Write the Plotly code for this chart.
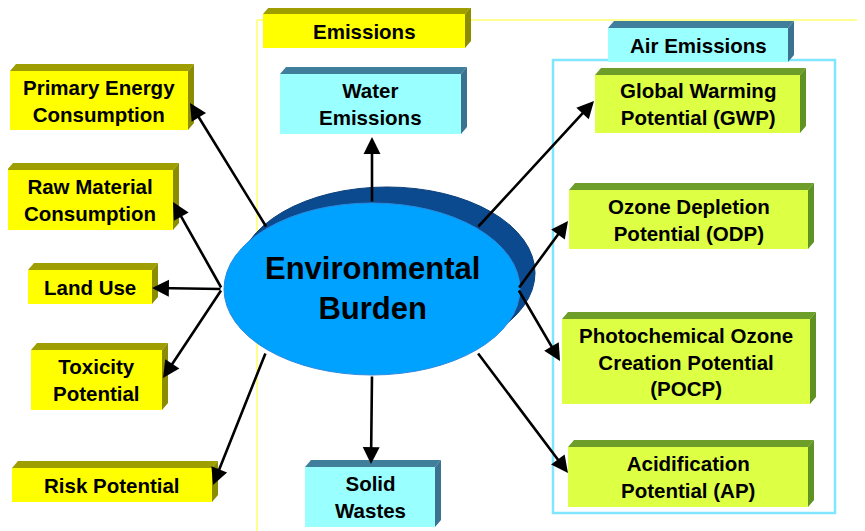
import plotly.graph_objects as go

# ---- content (text) ----
center_label = ["Environmental", "Burden"]
box_labels = [
    "Primary Energy<br>Consumption",
    "Raw Material<br>Consumption",
    "Land Use",
    "Toxicity<br>Potential",
    "Risk Potential",
    "Emissions",
    "Water<br>Emissions",
    "Solid<br>Wastes",
    "Air Emissions",
    "Global Warming<br>Potential (GWP)",
    "Ozone Depletion<br>Potential (ODP)",
    "Photochemical Ozone<br>Creation Potential<br>(POCP)",
    "Acidification<br>Potential (AP)",
]
box_kinds = ["y", "y", "y", "y", "y", "y", "c", "c", "c", "g", "g", "g", "g"]

# ---- layout geometry (pixels: x0, y0, x1, y1 of front face) ----
box_geom = [
    (10, 71, 188, 130),
    (7, 170, 173, 230),
    (28, 270, 152, 304),
    (31, 350, 162, 410),
    (12, 468, 212, 502),
    (263, 14, 465, 48),
    (280, 74, 461, 134),
    (305, 467, 435, 527),
    (608, 28, 788, 62),
    (595, 75, 800, 133),
    (569, 190, 808, 249),
    (562, 319, 810, 404),
    (568, 447, 808, 507),
]
# arrows: (tail x, tail y, head x, head y)
arrows = [
    (267, 228, 190, 103),
    (222, 289, 173, 202),
    (222, 289, 152, 288),
    (222, 289, 163, 378),
    (266, 352, 213, 485),
    (372, 203, 372, 137),
    (372, 375, 371, 464),
    (477, 228, 594, 101),
    (518, 289, 568, 221),
    (518, 289, 560, 361),
    (477, 352, 568, 473),
]

styles = {
    "y": dict(front="#FFFF00", top="#9E9E00", side="#8C8C00"),
    "c": dict(front="#99FFFF", top="#3F7F9C", side="#3A7290"),
    "g": dict(front="#DDFF44", top="#6E9E2A", side="#5E9222"),
}
DX, DY = 6, 7
OFF = 8  # page body margin compensation
FONT = "Liberation Sans, Arial"

fig = go.Figure()
shapes = []

# big emission outlines
shapes.append(dict(type="rect", x0=257, y0=20, x1=900, y1=560,
                   line=dict(color="#FFFF70", width=1.6), layer="below"))
shapes.append(dict(type="rect", x0=553, y0=60, x1=835, y1=513,
                   line=dict(color="#80E6FF", width=2.5), layer="below"))

# ellipse shadow + main
cx, cy, a, b = 372, 289, 148, 86
shapes.append(dict(type="circle", x0=cx - a + 15, x1=cx + a + 15,
                   y0=cy - b - 16, y1=cy + b - 16,
                   fillcolor="#0B4A8E", line=dict(color="#0A3F7A", width=1)))
shapes.append(dict(type="circle", x0=cx - a, x1=cx + a, y0=cy - b, y1=cy + b,
                   fillcolor="#00A2FF", line=dict(color="#2A8BE0", width=1)))

annotations = []
for lab, kind, (x0, y0, x1, y1) in zip(box_labels, box_kinds, box_geom):
    st = styles[kind]
    top = f"M{x0},{y0} L{x0+DX},{y0-DY} L{x1+DX},{y0-DY} L{x1},{y0} Z"
    side = f"M{x1},{y0} L{x1+DX},{y0-DY} L{x1+DX},{y1-DY} L{x1},{y1} Z"
    shapes.append(dict(type="path", path=top, fillcolor=st["top"], line=dict(width=0)))
    shapes.append(dict(type="path", path=side, fillcolor=st["side"], line=dict(width=0)))
    shapes.append(dict(type="rect", x0=x0, y0=y0, x1=x1, y1=y1,
                       fillcolor=st["front"], line=dict(width=0)))
    annotations.append(dict(x=(x0 + x1) / 2, y=(y0 + y1) / 2, xref="x", yref="y",
                            text=f"<b>{lab}</b>", showarrow=False,
                            font=dict(family=FONT, size=20.5, color="black")))

annotations.append(dict(x=cx, y=cy - 1, xref="x", yref="y",
                        text="<b>" + "<br>".join(center_label) + "</b>", showarrow=False,
                        font=dict(family=FONT, size=31, color="black")))

for (tx, ty, hx, hy) in arrows:
    annotations.append(dict(x=hx, y=hy, ax=tx, ay=ty, xref="x", yref="y",
                            axref="x", ayref="y", text="", showarrow=True,
                            arrowhead=2, arrowsize=1.3, arrowwidth=2.6,
                            arrowcolor="black", standoff=0, startstandoff=0))

fig.update_layout(
    width=865, height=531,
    margin=dict(l=0, r=0, t=0, b=0),
    paper_bgcolor="white", plot_bgcolor="white",
    xaxis=dict(range=[OFF, 865 + OFF], visible=False, fixedrange=True),
    yaxis=dict(range=[531 + OFF, OFF], visible=False, fixedrange=True),
    shapes=shapes, annotations=annotations, showlegend=False,
)
fig.write_html("out.html")
